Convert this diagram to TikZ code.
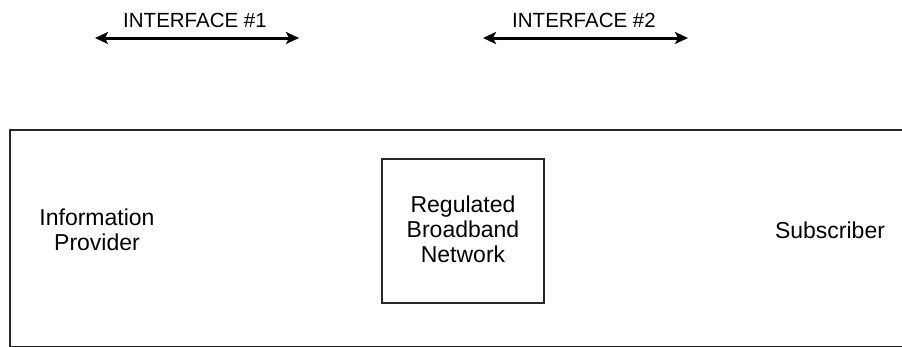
\documentclass[tikz,border=0pt]{standalone}
\usepackage{fontspec}
\setmainfont{Liberation Sans}
\usetikzlibrary{arrows.meta}
\tikzset{
  iflabel/.style={font=\fontsize{20.5}{24}\selectfont, inner sep=0pt},
  bodylabel/.style={font=\fontsize{23}{25}\selectfont, align=center, inner sep=0pt},
  ifarrow/.style={line width=3pt, {Stealth[length=13pt,width=12pt,inset=3pt]}-{Stealth[length=13pt,width=12pt,inset=3pt]}},
  boxline/.style={line width=2.2pt, draw=black!85}
}
\begin{document}
\begin{tikzpicture}[x=1pt,y=-1pt]
\useasboundingbox (0,0) rectangle (902,346);
\clip (0,0) rectangle (902,346);
% interface labels and arrows
\node[iflabel] (if1) at (195,20) {INTERFACE \#1};
\node[iflabel] (if2) at (584,20) {INTERFACE \#2};
\coordinate (a1l) at (95,38);
\coordinate (a1r) at (299,38);
\coordinate (a2l) at (483,38);
\coordinate (a2r) at (688,38);
\draw[ifarrow] (a1l) -- (a1r);
\draw[ifarrow] (a2l) -- (a2r);
% outer frame (open to the right, bottom on the edge)
\draw[boxline] (10,130) rectangle (920,346.6);
% inner box
\node[boxline, draw, minimum width=162pt, minimum height=144pt, inner sep=0pt] (net) at (463,231) {};
\node[bodylabel] (netlabel) at (463,229) {Regulated\\Broadband\\Network};
\node[bodylabel] (prov) at (97,230) {Information\\Provider};
\node[bodylabel] (sub) at (830,230) {Subscriber};
\end{tikzpicture}
\end{document}
